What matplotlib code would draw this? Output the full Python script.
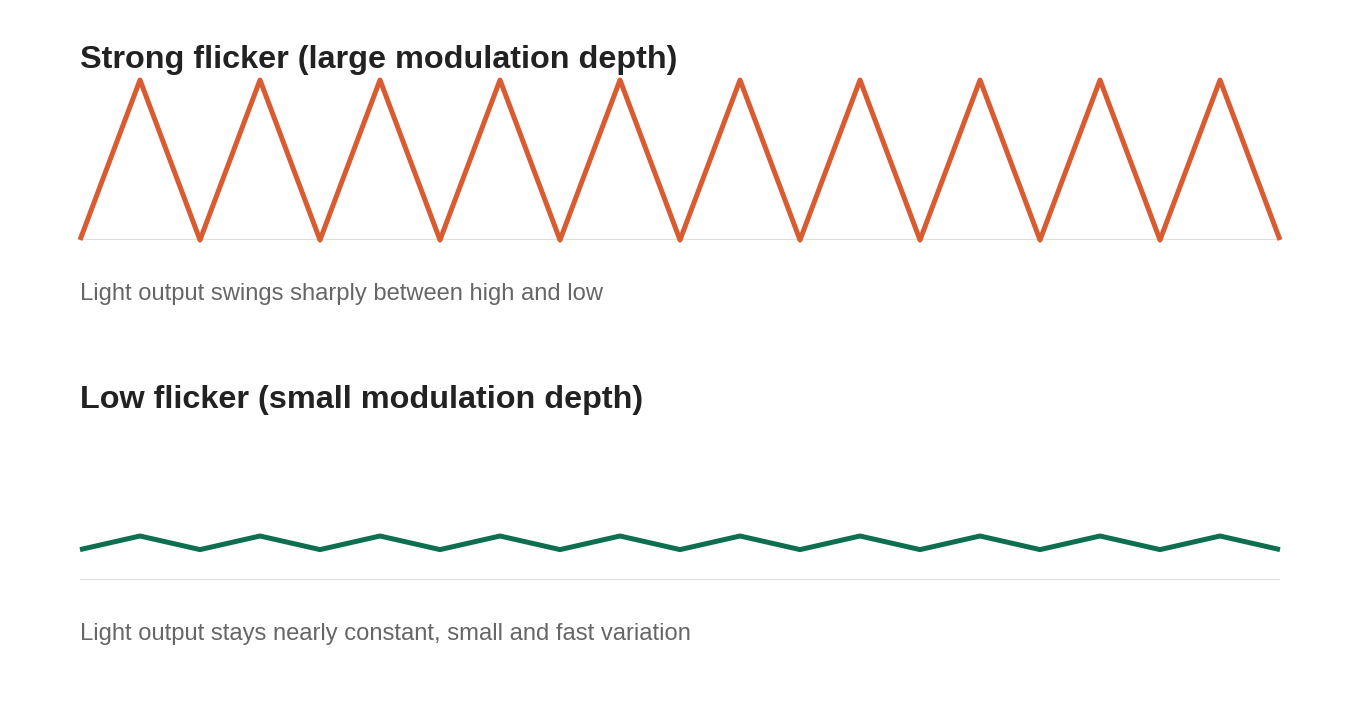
import matplotlib

matplotlib.use("Agg")
import matplotlib.pyplot as plt

plt.rcParams["font.family"] = ["Liberation Sans", "DejaVu Sans"]

W, H = 1360, 720

# sample index along time, 21 points (low/high alternating)
time_steps = list(range(21))
strong_values = [0, 1, 0, 1, 0, 1, 0, 1, 0, 1, 0, 1, 0, 1, 0, 1, 0, 1, 0, 1, 0]
low_values = [0.19, 0.275, 0.19, 0.275, 0.19, 0.275, 0.19, 0.275, 0.19, 0.275, 0.19,
              0.275, 0.19, 0.275, 0.19, 0.275, 0.19, 0.275, 0.19, 0.275, 0.19]

titles = ["Strong flicker (large modulation depth)", "Low flicker (small modulation depth)"]
captions = ["Light output swings sharply between high and low",
            "Light output stays nearly constant, small and fast variation"]
colors = ["#d95b30", "#0e6e50"]
series = [strong_values, low_values]

fig = plt.figure(figsize=(W / 100, H / 100), dpi=100)
fig.patch.set_facecolor("white")

panel_tops = [80, 420]  # pixel y of axes top
for top, title, caption, color, values in zip(panel_tops, titles, captions, colors, series):
    ax = fig.add_axes([80 / W, (H - top - 160) / H, 1200 / W, 160 / H])
    ax.set_xlim(0, 20)
    ax.set_ylim(0, 1)
    ax.axis("off")
    ax.axhline(0, color="#dddddd", lw=1.5, zorder=1)
    ax.plot(time_steps, values, color=color, lw=3.6, solid_joinstyle="round",
            solid_capstyle="butt", zorder=2, clip_on=False)

    fig.text(80 / W, (H - (top - 12)) / H, title, fontsize=23.3, fontweight="bold",
             color="#222222", va="baseline", ha="left")
    fig.text(80 / W, (H - (top + 220)) / H, caption, fontsize=17.1,
             color="#666666", va="baseline", ha="left")

fig.savefig("out.png", dpi=100, facecolor="white")
